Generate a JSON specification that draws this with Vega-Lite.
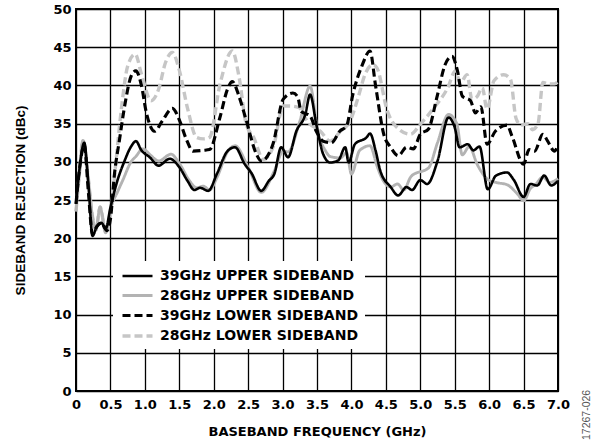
{
  "$schema": "https://vega.github.io/schema/vega-lite/v6.json",
  "width": 482,
  "height": 382,
  "autosize": {"type": "none"},
  "padding": {"left": 76, "top": 9, "right": 34, "bottom": 55},
  "background": "white",
  "config": {
    "font": "Liberation Sans",
    "view": {"stroke": "black", "strokeWidth": 2}
  },
  "title": {"text": "17267-026", "orient": "right", "anchor": "end", "frame": "group", "angle": -90, "baseline": "top", "align": "left", "fontSize": 10.5, "font": "Liberation Sans", "fontWeight": "normal", "color": "#555555", "offset": 12, "dx": -49, "dy": -10},
  "data": {
    "values": [
      {"s": "28GHz LOWER SIDEBAND", "f": 0.0, "v": 23.5},
      {"s": "28GHz LOWER SIDEBAND", "f": 0.05, "v": 28.5},
      {"s": "28GHz LOWER SIDEBAND", "f": 0.1, "v": 32.8},
      {"s": "28GHz LOWER SIDEBAND", "f": 0.17, "v": 28.5},
      {"s": "28GHz LOWER SIDEBAND", "f": 0.24, "v": 22.8},
      {"s": "28GHz LOWER SIDEBAND", "f": 0.29, "v": 21.1},
      {"s": "28GHz LOWER SIDEBAND", "f": 0.35, "v": 24.1},
      {"s": "28GHz LOWER SIDEBAND", "f": 0.43, "v": 20.8},
      {"s": "28GHz LOWER SIDEBAND", "f": 0.5, "v": 23},
      {"s": "28GHz LOWER SIDEBAND", "f": 0.58, "v": 30},
      {"s": "28GHz LOWER SIDEBAND", "f": 0.66, "v": 37},
      {"s": "28GHz LOWER SIDEBAND", "f": 0.75, "v": 42.5},
      {"s": "28GHz LOWER SIDEBAND", "f": 0.86, "v": 44.1},
      {"s": "28GHz LOWER SIDEBAND", "f": 0.95, "v": 41.5},
      {"s": "28GHz LOWER SIDEBAND", "f": 1.09, "v": 38},
      {"s": "28GHz LOWER SIDEBAND", "f": 1.2, "v": 39.5},
      {"s": "28GHz LOWER SIDEBAND", "f": 1.3, "v": 43},
      {"s": "28GHz LOWER SIDEBAND", "f": 1.4, "v": 44.3},
      {"s": "28GHz LOWER SIDEBAND", "f": 1.5, "v": 42},
      {"s": "28GHz LOWER SIDEBAND", "f": 1.62, "v": 37},
      {"s": "28GHz LOWER SIDEBAND", "f": 1.75, "v": 33.2},
      {"s": "28GHz LOWER SIDEBAND", "f": 1.85, "v": 33},
      {"s": "28GHz LOWER SIDEBAND", "f": 1.94, "v": 33.2},
      {"s": "28GHz LOWER SIDEBAND", "f": 2.09, "v": 40.1},
      {"s": "28GHz LOWER SIDEBAND", "f": 2.27, "v": 44.5},
      {"s": "28GHz LOWER SIDEBAND", "f": 2.37, "v": 41},
      {"s": "28GHz LOWER SIDEBAND", "f": 2.47, "v": 35},
      {"s": "28GHz LOWER SIDEBAND", "f": 2.58, "v": 33.2},
      {"s": "28GHz LOWER SIDEBAND", "f": 2.72, "v": 30.3},
      {"s": "28GHz LOWER SIDEBAND", "f": 2.87, "v": 32.1},
      {"s": "28GHz LOWER SIDEBAND", "f": 3.01, "v": 37.3},
      {"s": "28GHz LOWER SIDEBAND", "f": 3.1, "v": 37.3},
      {"s": "28GHz LOWER SIDEBAND", "f": 3.24, "v": 37.1},
      {"s": "28GHz LOWER SIDEBAND", "f": 3.36, "v": 35.3},
      {"s": "28GHz LOWER SIDEBAND", "f": 3.55, "v": 34},
      {"s": "28GHz LOWER SIDEBAND", "f": 3.69, "v": 32.7},
      {"s": "28GHz LOWER SIDEBAND", "f": 3.84, "v": 34},
      {"s": "28GHz LOWER SIDEBAND", "f": 3.98, "v": 35.3},
      {"s": "28GHz LOWER SIDEBAND", "f": 4.1, "v": 38.5},
      {"s": "28GHz LOWER SIDEBAND", "f": 4.2, "v": 41.5},
      {"s": "28GHz LOWER SIDEBAND", "f": 4.31, "v": 42.7},
      {"s": "28GHz LOWER SIDEBAND", "f": 4.37, "v": 42.3},
      {"s": "28GHz LOWER SIDEBAND", "f": 4.52, "v": 36.7},
      {"s": "28GHz LOWER SIDEBAND", "f": 4.66, "v": 34.5},
      {"s": "28GHz LOWER SIDEBAND", "f": 4.86, "v": 33.6},
      {"s": "28GHz LOWER SIDEBAND", "f": 5.0, "v": 34.9},
      {"s": "28GHz LOWER SIDEBAND", "f": 5.2, "v": 37.1},
      {"s": "28GHz LOWER SIDEBAND", "f": 5.4, "v": 39.7},
      {"s": "28GHz LOWER SIDEBAND", "f": 5.51, "v": 41.9},
      {"s": "28GHz LOWER SIDEBAND", "f": 5.58, "v": 40.3},
      {"s": "28GHz LOWER SIDEBAND", "f": 5.68, "v": 41.4},
      {"s": "28GHz LOWER SIDEBAND", "f": 5.75, "v": 38.2},
      {"s": "28GHz LOWER SIDEBAND", "f": 5.83, "v": 38.6},
      {"s": "28GHz LOWER SIDEBAND", "f": 5.9, "v": 39.7},
      {"s": "28GHz LOWER SIDEBAND", "f": 5.97, "v": 36.9},
      {"s": "28GHz LOWER SIDEBAND", "f": 6.07, "v": 40.6},
      {"s": "28GHz LOWER SIDEBAND", "f": 6.21, "v": 41.4},
      {"s": "28GHz LOWER SIDEBAND", "f": 6.31, "v": 40.8},
      {"s": "28GHz LOWER SIDEBAND", "f": 6.39, "v": 35.7},
      {"s": "28GHz LOWER SIDEBAND", "f": 6.46, "v": 34.8},
      {"s": "28GHz LOWER SIDEBAND", "f": 6.56, "v": 35},
      {"s": "28GHz LOWER SIDEBAND", "f": 6.63, "v": 34.2},
      {"s": "28GHz LOWER SIDEBAND", "f": 6.71, "v": 35},
      {"s": "28GHz LOWER SIDEBAND", "f": 6.78, "v": 40.4},
      {"s": "28GHz LOWER SIDEBAND", "f": 6.85, "v": 40.2},
      {"s": "28GHz LOWER SIDEBAND", "f": 6.95, "v": 40.2},
      {"s": "28GHz LOWER SIDEBAND", "f": 7.0, "v": 40.5},

      {"s": "28GHz UPPER SIDEBAND", "f": 0.0, "v": 23.5},
      {"s": "28GHz UPPER SIDEBAND", "f": 0.05, "v": 28.5},
      {"s": "28GHz UPPER SIDEBAND", "f": 0.1, "v": 32.8},
      {"s": "28GHz UPPER SIDEBAND", "f": 0.17, "v": 28.5},
      {"s": "28GHz UPPER SIDEBAND", "f": 0.24, "v": 22.8},
      {"s": "28GHz UPPER SIDEBAND", "f": 0.29, "v": 21.1},
      {"s": "28GHz UPPER SIDEBAND", "f": 0.35, "v": 24.1},
      {"s": "28GHz UPPER SIDEBAND", "f": 0.39, "v": 22.5},
      {"s": "28GHz UPPER SIDEBAND", "f": 0.43, "v": 20.7},
      {"s": "28GHz UPPER SIDEBAND", "f": 0.51, "v": 24.1},
      {"s": "28GHz UPPER SIDEBAND", "f": 0.6, "v": 26},
      {"s": "28GHz UPPER SIDEBAND", "f": 0.68, "v": 27.6},
      {"s": "28GHz UPPER SIDEBAND", "f": 0.8, "v": 30},
      {"s": "28GHz UPPER SIDEBAND", "f": 0.87, "v": 30.7},
      {"s": "28GHz UPPER SIDEBAND", "f": 0.97, "v": 31.7},
      {"s": "28GHz UPPER SIDEBAND", "f": 1.09, "v": 30.8},
      {"s": "28GHz UPPER SIDEBAND", "f": 1.2, "v": 30.1},
      {"s": "28GHz UPPER SIDEBAND", "f": 1.38, "v": 31},
      {"s": "28GHz UPPER SIDEBAND", "f": 1.5, "v": 29.8},
      {"s": "28GHz UPPER SIDEBAND", "f": 1.65, "v": 27.5},
      {"s": "28GHz UPPER SIDEBAND", "f": 1.75, "v": 26.6},
      {"s": "28GHz UPPER SIDEBAND", "f": 1.85, "v": 26.8},
      {"s": "28GHz UPPER SIDEBAND", "f": 1.94, "v": 26.3},
      {"s": "28GHz UPPER SIDEBAND", "f": 2.05, "v": 28},
      {"s": "28GHz UPPER SIDEBAND", "f": 2.2, "v": 31.3},
      {"s": "28GHz UPPER SIDEBAND", "f": 2.31, "v": 32.1},
      {"s": "28GHz UPPER SIDEBAND", "f": 2.5, "v": 29.3},
      {"s": "28GHz UPPER SIDEBAND", "f": 2.69, "v": 26},
      {"s": "28GHz UPPER SIDEBAND", "f": 2.88, "v": 28.8},
      {"s": "28GHz UPPER SIDEBAND", "f": 3.01, "v": 31.4},
      {"s": "28GHz UPPER SIDEBAND", "f": 3.08, "v": 31.3},
      {"s": "28GHz UPPER SIDEBAND", "f": 3.25, "v": 35.3},
      {"s": "28GHz UPPER SIDEBAND", "f": 3.4, "v": 39.9},
      {"s": "28GHz UPPER SIDEBAND", "f": 3.51, "v": 34},
      {"s": "28GHz UPPER SIDEBAND", "f": 3.62, "v": 31.5},
      {"s": "28GHz UPPER SIDEBAND", "f": 3.69, "v": 30.7},
      {"s": "28GHz UPPER SIDEBAND", "f": 3.84, "v": 30.5},
      {"s": "28GHz UPPER SIDEBAND", "f": 3.93, "v": 31.2},
      {"s": "28GHz UPPER SIDEBAND", "f": 4.0, "v": 28.4},
      {"s": "28GHz UPPER SIDEBAND", "f": 4.12, "v": 31.5},
      {"s": "28GHz UPPER SIDEBAND", "f": 4.27, "v": 32.1},
      {"s": "28GHz UPPER SIDEBAND", "f": 4.37, "v": 29.5},
      {"s": "28GHz UPPER SIDEBAND", "f": 4.42, "v": 28.3},
      {"s": "28GHz UPPER SIDEBAND", "f": 4.57, "v": 26.7},
      {"s": "28GHz UPPER SIDEBAND", "f": 4.67, "v": 27.1},
      {"s": "28GHz UPPER SIDEBAND", "f": 4.76, "v": 26.3},
      {"s": "28GHz UPPER SIDEBAND", "f": 4.86, "v": 28},
      {"s": "28GHz UPPER SIDEBAND", "f": 4.96, "v": 28.6},
      {"s": "28GHz UPPER SIDEBAND", "f": 5.0, "v": 28.7},
      {"s": "28GHz UPPER SIDEBAND", "f": 5.12, "v": 29.2},
      {"s": "28GHz UPPER SIDEBAND", "f": 5.25, "v": 32.5},
      {"s": "28GHz UPPER SIDEBAND", "f": 5.41, "v": 36.2},
      {"s": "28GHz UPPER SIDEBAND", "f": 5.53, "v": 35},
      {"s": "28GHz UPPER SIDEBAND", "f": 5.61, "v": 30.9},
      {"s": "28GHz UPPER SIDEBAND", "f": 5.71, "v": 32},
      {"s": "28GHz UPPER SIDEBAND", "f": 5.83, "v": 29.6},
      {"s": "28GHz UPPER SIDEBAND", "f": 5.98, "v": 27.7},
      {"s": "28GHz UPPER SIDEBAND", "f": 6.1, "v": 27.3},
      {"s": "28GHz UPPER SIDEBAND", "f": 6.26, "v": 27},
      {"s": "28GHz UPPER SIDEBAND", "f": 6.41, "v": 25.8},
      {"s": "28GHz UPPER SIDEBAND", "f": 6.5, "v": 24.9},
      {"s": "28GHz UPPER SIDEBAND", "f": 6.6, "v": 26.5},
      {"s": "28GHz UPPER SIDEBAND", "f": 6.67, "v": 27},
      {"s": "28GHz UPPER SIDEBAND", "f": 6.78, "v": 28},
      {"s": "28GHz UPPER SIDEBAND", "f": 6.88, "v": 27.3},
      {"s": "28GHz UPPER SIDEBAND", "f": 7.0, "v": 27.8},

      {"s": "39GHz LOWER SIDEBAND", "f": 0.0, "v": 24.5},
      {"s": "39GHz LOWER SIDEBAND", "f": 0.05, "v": 29},
      {"s": "39GHz LOWER SIDEBAND", "f": 0.12, "v": 32.2},
      {"s": "39GHz LOWER SIDEBAND", "f": 0.18, "v": 26},
      {"s": "39GHz LOWER SIDEBAND", "f": 0.24, "v": 20.5},
      {"s": "39GHz LOWER SIDEBAND", "f": 0.3, "v": 21.5},
      {"s": "39GHz LOWER SIDEBAND", "f": 0.37, "v": 22},
      {"s": "39GHz LOWER SIDEBAND", "f": 0.45, "v": 21},
      {"s": "39GHz LOWER SIDEBAND", "f": 0.5, "v": 22.5},
      {"s": "39GHz LOWER SIDEBAND", "f": 0.56, "v": 28.5},
      {"s": "39GHz LOWER SIDEBAND", "f": 0.63, "v": 32.8},
      {"s": "39GHz LOWER SIDEBAND", "f": 0.72, "v": 38},
      {"s": "39GHz LOWER SIDEBAND", "f": 0.8, "v": 41.2},
      {"s": "39GHz LOWER SIDEBAND", "f": 0.87, "v": 41.9},
      {"s": "39GHz LOWER SIDEBAND", "f": 0.95, "v": 40},
      {"s": "39GHz LOWER SIDEBAND", "f": 1.02, "v": 36.5},
      {"s": "39GHz LOWER SIDEBAND", "f": 1.14, "v": 34},
      {"s": "39GHz LOWER SIDEBAND", "f": 1.25, "v": 35.3},
      {"s": "39GHz LOWER SIDEBAND", "f": 1.4, "v": 37},
      {"s": "39GHz LOWER SIDEBAND", "f": 1.5, "v": 35.5},
      {"s": "39GHz LOWER SIDEBAND", "f": 1.6, "v": 33},
      {"s": "39GHz LOWER SIDEBAND", "f": 1.7, "v": 31.4},
      {"s": "39GHz LOWER SIDEBAND", "f": 1.85, "v": 31.5},
      {"s": "39GHz LOWER SIDEBAND", "f": 1.94, "v": 31.6},
      {"s": "39GHz LOWER SIDEBAND", "f": 2.09, "v": 35.8},
      {"s": "39GHz LOWER SIDEBAND", "f": 2.2, "v": 39.5},
      {"s": "39GHz LOWER SIDEBAND", "f": 2.27, "v": 40.5},
      {"s": "39GHz LOWER SIDEBAND", "f": 2.37, "v": 38.5},
      {"s": "39GHz LOWER SIDEBAND", "f": 2.47, "v": 35.5},
      {"s": "39GHz LOWER SIDEBAND", "f": 2.62, "v": 31},
      {"s": "39GHz LOWER SIDEBAND", "f": 2.69, "v": 30.1},
      {"s": "39GHz LOWER SIDEBAND", "f": 2.86, "v": 32.3},
      {"s": "39GHz LOWER SIDEBAND", "f": 3.01, "v": 38.2},
      {"s": "39GHz LOWER SIDEBAND", "f": 3.15, "v": 39},
      {"s": "39GHz LOWER SIDEBAND", "f": 3.22, "v": 38.5},
      {"s": "39GHz LOWER SIDEBAND", "f": 3.27, "v": 36.6},
      {"s": "39GHz LOWER SIDEBAND", "f": 3.4, "v": 36},
      {"s": "39GHz LOWER SIDEBAND", "f": 3.49, "v": 34},
      {"s": "39GHz LOWER SIDEBAND", "f": 3.59, "v": 32.7},
      {"s": "39GHz LOWER SIDEBAND", "f": 3.71, "v": 32.5},
      {"s": "39GHz LOWER SIDEBAND", "f": 3.83, "v": 34},
      {"s": "39GHz LOWER SIDEBAND", "f": 3.93, "v": 34.7},
      {"s": "39GHz LOWER SIDEBAND", "f": 4.02, "v": 38.8},
      {"s": "39GHz LOWER SIDEBAND", "f": 4.15, "v": 42.5},
      {"s": "39GHz LOWER SIDEBAND", "f": 4.27, "v": 44.5},
      {"s": "39GHz LOWER SIDEBAND", "f": 4.35, "v": 40},
      {"s": "39GHz LOWER SIDEBAND", "f": 4.47, "v": 33.6},
      {"s": "39GHz LOWER SIDEBAND", "f": 4.57, "v": 31.9},
      {"s": "39GHz LOWER SIDEBAND", "f": 4.68, "v": 30.8},
      {"s": "39GHz LOWER SIDEBAND", "f": 4.8, "v": 31.9},
      {"s": "39GHz LOWER SIDEBAND", "f": 4.9, "v": 31.7},
      {"s": "39GHz LOWER SIDEBAND", "f": 5.0, "v": 33.6},
      {"s": "39GHz LOWER SIDEBAND", "f": 5.12, "v": 34.3},
      {"s": "39GHz LOWER SIDEBAND", "f": 5.24, "v": 38.4},
      {"s": "39GHz LOWER SIDEBAND", "f": 5.36, "v": 42.7},
      {"s": "39GHz LOWER SIDEBAND", "f": 5.46, "v": 43.8},
      {"s": "39GHz LOWER SIDEBAND", "f": 5.54, "v": 41.9},
      {"s": "39GHz LOWER SIDEBAND", "f": 5.61, "v": 38.6},
      {"s": "39GHz LOWER SIDEBAND", "f": 5.73, "v": 38},
      {"s": "39GHz LOWER SIDEBAND", "f": 5.8, "v": 36.4},
      {"s": "39GHz LOWER SIDEBAND", "f": 5.88, "v": 37.2},
      {"s": "39GHz LOWER SIDEBAND", "f": 5.97, "v": 32.3},
      {"s": "39GHz LOWER SIDEBAND", "f": 6.09, "v": 34},
      {"s": "39GHz LOWER SIDEBAND", "f": 6.26, "v": 34.8},
      {"s": "39GHz LOWER SIDEBAND", "f": 6.33, "v": 33.4},
      {"s": "39GHz LOWER SIDEBAND", "f": 6.5, "v": 29.7},
      {"s": "39GHz LOWER SIDEBAND", "f": 6.58, "v": 31.6},
      {"s": "39GHz LOWER SIDEBAND", "f": 6.66, "v": 31.4},
      {"s": "39GHz LOWER SIDEBAND", "f": 6.78, "v": 33.6},
      {"s": "39GHz LOWER SIDEBAND", "f": 6.85, "v": 32.7},
      {"s": "39GHz LOWER SIDEBAND", "f": 6.95, "v": 31.4},
      {"s": "39GHz LOWER SIDEBAND", "f": 7.0, "v": 32.2},

      {"s": "39GHz UPPER SIDEBAND", "f": 0.0, "v": 24.5},
      {"s": "39GHz UPPER SIDEBAND", "f": 0.05, "v": 29},
      {"s": "39GHz UPPER SIDEBAND", "f": 0.12, "v": 32.5},
      {"s": "39GHz UPPER SIDEBAND", "f": 0.18, "v": 27},
      {"s": "39GHz UPPER SIDEBAND", "f": 0.24, "v": 20.3},
      {"s": "39GHz UPPER SIDEBAND", "f": 0.3, "v": 21.5},
      {"s": "39GHz UPPER SIDEBAND", "f": 0.37, "v": 22},
      {"s": "39GHz UPPER SIDEBAND", "f": 0.43, "v": 21.2},
      {"s": "39GHz UPPER SIDEBAND", "f": 0.5, "v": 24},
      {"s": "39GHz UPPER SIDEBAND", "f": 0.6, "v": 27.5},
      {"s": "39GHz UPPER SIDEBAND", "f": 0.7, "v": 30},
      {"s": "39GHz UPPER SIDEBAND", "f": 0.8, "v": 32},
      {"s": "39GHz UPPER SIDEBAND", "f": 0.87, "v": 32.7},
      {"s": "39GHz UPPER SIDEBAND", "f": 0.95, "v": 31.5},
      {"s": "39GHz UPPER SIDEBAND", "f": 1.07, "v": 30.6},
      {"s": "39GHz UPPER SIDEBAND", "f": 1.2, "v": 29.5},
      {"s": "39GHz UPPER SIDEBAND", "f": 1.36, "v": 30.4},
      {"s": "39GHz UPPER SIDEBAND", "f": 1.5, "v": 29.3},
      {"s": "39GHz UPPER SIDEBAND", "f": 1.62, "v": 27.5},
      {"s": "39GHz UPPER SIDEBAND", "f": 1.72, "v": 26.3},
      {"s": "39GHz UPPER SIDEBAND", "f": 1.8, "v": 26.6},
      {"s": "39GHz UPPER SIDEBAND", "f": 1.92, "v": 26.2},
      {"s": "39GHz UPPER SIDEBAND", "f": 2.05, "v": 28.5},
      {"s": "39GHz UPPER SIDEBAND", "f": 2.2, "v": 31.4},
      {"s": "39GHz UPPER SIDEBAND", "f": 2.31, "v": 31.9},
      {"s": "39GHz UPPER SIDEBAND", "f": 2.45, "v": 29.7},
      {"s": "39GHz UPPER SIDEBAND", "f": 2.55, "v": 28.5},
      {"s": "39GHz UPPER SIDEBAND", "f": 2.69, "v": 26.2},
      {"s": "39GHz UPPER SIDEBAND", "f": 2.8, "v": 27.5},
      {"s": "39GHz UPPER SIDEBAND", "f": 2.88, "v": 28.4},
      {"s": "39GHz UPPER SIDEBAND", "f": 2.98, "v": 31.9},
      {"s": "39GHz UPPER SIDEBAND", "f": 3.08, "v": 30.6},
      {"s": "39GHz UPPER SIDEBAND", "f": 3.2, "v": 34},
      {"s": "39GHz UPPER SIDEBAND", "f": 3.33, "v": 36.2},
      {"s": "39GHz UPPER SIDEBAND", "f": 3.4, "v": 38.8},
      {"s": "39GHz UPPER SIDEBAND", "f": 3.49, "v": 34.9},
      {"s": "39GHz UPPER SIDEBAND", "f": 3.59, "v": 31},
      {"s": "39GHz UPPER SIDEBAND", "f": 3.69, "v": 29.9},
      {"s": "39GHz UPPER SIDEBAND", "f": 3.81, "v": 30.2},
      {"s": "39GHz UPPER SIDEBAND", "f": 3.91, "v": 31.9},
      {"s": "39GHz UPPER SIDEBAND", "f": 3.96, "v": 29.9},
      {"s": "39GHz UPPER SIDEBAND", "f": 4.05, "v": 32.3},
      {"s": "39GHz UPPER SIDEBAND", "f": 4.22, "v": 33.2},
      {"s": "39GHz UPPER SIDEBAND", "f": 4.27, "v": 33.7},
      {"s": "39GHz UPPER SIDEBAND", "f": 4.35, "v": 31.5},
      {"s": "39GHz UPPER SIDEBAND", "f": 4.42, "v": 28.8},
      {"s": "39GHz UPPER SIDEBAND", "f": 4.57, "v": 26.7},
      {"s": "39GHz UPPER SIDEBAND", "f": 4.68, "v": 25.6},
      {"s": "39GHz UPPER SIDEBAND", "f": 4.8, "v": 26.7},
      {"s": "39GHz UPPER SIDEBAND", "f": 4.88, "v": 26.3},
      {"s": "39GHz UPPER SIDEBAND", "f": 5.0, "v": 27.6},
      {"s": "39GHz UPPER SIDEBAND", "f": 5.1, "v": 27.1},
      {"s": "39GHz UPPER SIDEBAND", "f": 5.25, "v": 30.1},
      {"s": "39GHz UPPER SIDEBAND", "f": 5.41, "v": 35.8},
      {"s": "39GHz UPPER SIDEBAND", "f": 5.5, "v": 34.5},
      {"s": "39GHz UPPER SIDEBAND", "f": 5.57, "v": 31.9},
      {"s": "39GHz UPPER SIDEBAND", "f": 5.69, "v": 32.3},
      {"s": "39GHz UPPER SIDEBAND", "f": 5.77, "v": 31.5},
      {"s": "39GHz UPPER SIDEBAND", "f": 5.86, "v": 32},
      {"s": "39GHz UPPER SIDEBAND", "f": 5.98, "v": 26.4},
      {"s": "39GHz UPPER SIDEBAND", "f": 6.1, "v": 28.2},
      {"s": "39GHz UPPER SIDEBAND", "f": 6.26, "v": 28.6},
      {"s": "39GHz UPPER SIDEBAND", "f": 6.36, "v": 27.6},
      {"s": "39GHz UPPER SIDEBAND", "f": 6.5, "v": 25.4},
      {"s": "39GHz UPPER SIDEBAND", "f": 6.6, "v": 27.1},
      {"s": "39GHz UPPER SIDEBAND", "f": 6.7, "v": 26.9},
      {"s": "39GHz UPPER SIDEBAND", "f": 6.8, "v": 28.2},
      {"s": "39GHz UPPER SIDEBAND", "f": 6.9, "v": 26.9},
      {"s": "39GHz UPPER SIDEBAND", "f": 7.0, "v": 27.5}
    ]
  },
  "mark": {"type": "line", "interpolate": "monotone"},
  "encoding": {
    "x": {
      "field": "f", "type": "quantitative",
      "scale": {"domain": [0, 7], "nice": false},
      "axis": {
        "title": "BASEBAND FREQUENCY (GHz)",
        "values": [0, 0.5, 1, 1.5, 2, 2.5, 3, 3.5, 4, 4.5, 5, 5.5, 6, 6.5, 7],
        "labelExpr": "datum.value == 0 ? '0' : format(datum.value, '.1f')",
        "grid": true, "gridColor": "black", "gridWidth": 1.3, "gridOpacity": 1,
        "domain": false, "ticks": false,
        "labelFont": "DejaVu Sans", "labelFontWeight": "bold", "labelFontSize": 13, "labelColor": "black", "labelPadding": 7,
        "labelFlush": false,
        "titleFont": "DejaVu Sans", "titleFontWeight": "bold", "titleFontSize": 13, "titleColor": "black", "titlePadding": 14
      }
    },
    "y": {
      "field": "v", "type": "quantitative",
      "scale": {"domain": [0, 50], "nice": false},
      "axis": {
        "title": "SIDEBAND REJECTION (dBc)",
        "values": [0, 5, 10, 15, 20, 25, 30, 35, 40, 45, 50],
        "grid": true, "gridColor": "black", "gridWidth": 1.3, "gridOpacity": 1,
        "domain": false, "ticks": false,
        "labelFont": "DejaVu Sans", "labelFontWeight": "bold", "labelFontSize": 13, "labelColor": "black", "labelPadding": 5,
        "labelFlush": false,
        "titleFont": "Liberation Sans", "titleFontWeight": "bold", "titleFontSize": 13.5, "titleColor": "black", "titlePadding": 25
      }
    },
    "strokeWidth": {
      "field": "s", "type": "nominal",
      "scale": {
        "domain": ["39GHz UPPER SIDEBAND", "28GHz UPPER SIDEBAND", "39GHz LOWER SIDEBAND", "28GHz LOWER SIDEBAND"],
        "range": [2.6, 3.4, 3, 3]
      },
      "legend": null
    },
    "color": {
      "field": "s", "type": "nominal",
      "scale": {
        "domain": ["39GHz UPPER SIDEBAND", "28GHz UPPER SIDEBAND", "39GHz LOWER SIDEBAND", "28GHz LOWER SIDEBAND"],
        "range": ["#000000", "#b3b3b3", "#000000", "#c6c6c6"]
      },
      "legend": {
        "title": null, "orient": "none", "legendX": 37, "legendY": 252,
        "fillColor": "white", "padding": 6,
        "symbolType": "M-2,0H2", "symbolSize": 225, "symbolStrokeWidth": 3, "symbolOffset": 9,
        "labelFont": "DejaVu Sans", "labelFontWeight": "bold", "labelFontSize": 14, "labelColor": "black", "labelLimit": 0,
        "rowPadding": 3.5, "labelOffset": 13
      }
    },
    "strokeDash": {
      "field": "s", "type": "nominal",
      "scale": {
        "domain": ["39GHz UPPER SIDEBAND", "28GHz UPPER SIDEBAND", "39GHz LOWER SIDEBAND", "28GHz LOWER SIDEBAND"],
        "range": [[1, 0], [1, 0], [8, 4], [8, 4]]
      },
      "legend": {
        "title": null, "orient": "none", "legendX": 37, "legendY": 252,
        "fillColor": "white", "padding": 6,
        "symbolType": "M-2,0H2", "symbolSize": 225, "symbolStrokeWidth": 3, "symbolOffset": 9,
        "labelFont": "DejaVu Sans", "labelFontWeight": "bold", "labelFontSize": 14, "labelColor": "black", "labelLimit": 0,
        "rowPadding": 3.5, "labelOffset": 13
      }
    }
  }
}
